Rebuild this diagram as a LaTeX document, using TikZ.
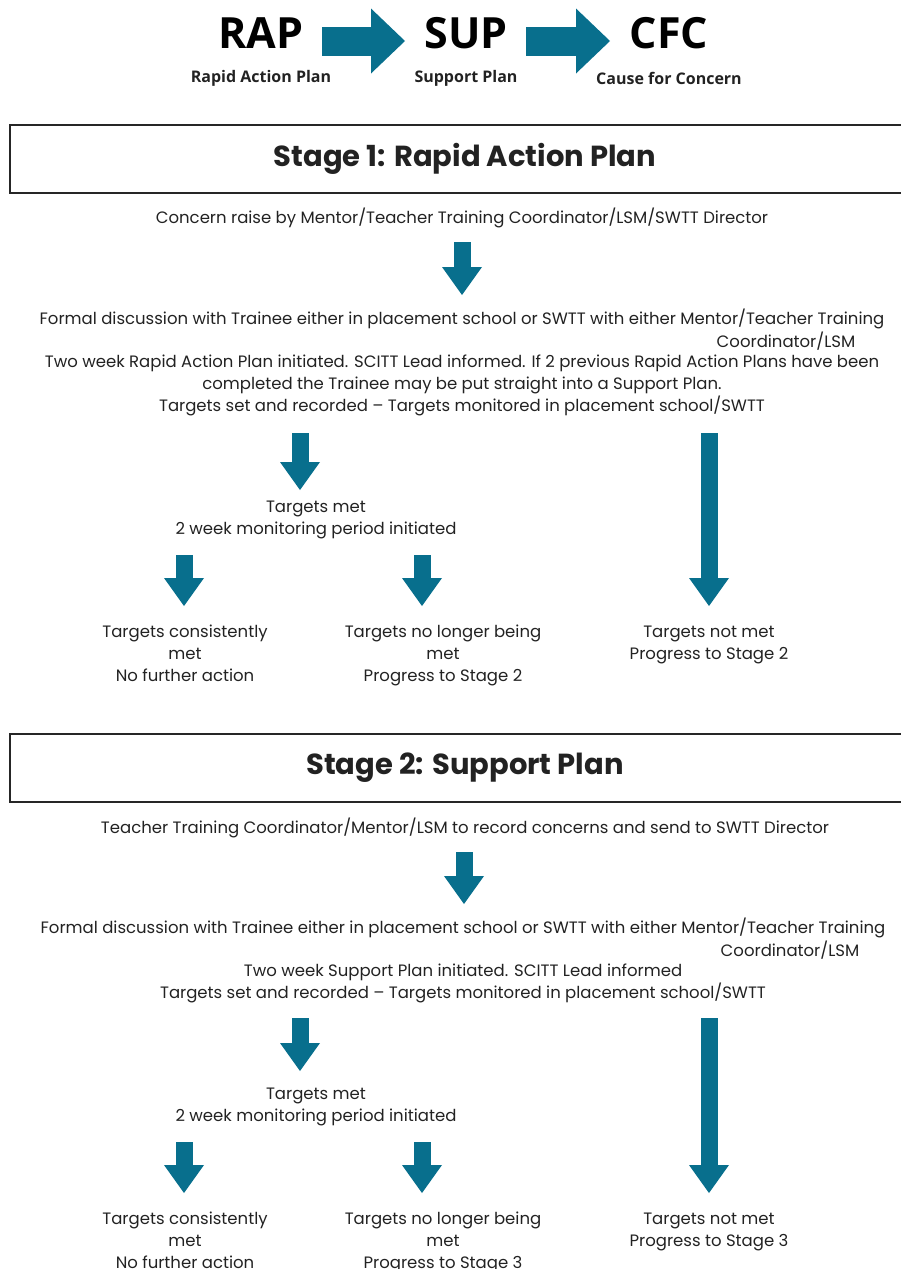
\documentclass[tikz,border=0pt]{standalone}
\usepackage{fontspec}
\setmainfont{Poppins}
\newfontfamily\headfont{Open Sans}
\usetikzlibrary{arrows.meta}
\definecolor{planblue}{HTML}{086F8D}
\definecolor{plaintext}{HTML}{222222}
\tikzset{
  body/.style={font=\fontsize{16.5}{22}\selectfont, text=plaintext, align=center, inner sep=0pt},
  stagebox/.style={draw=black!85, line width=1.6pt, minimum width=910pt, minimum height=68pt,
    font=\bfseries\fontsize{29}{32}\selectfont, text=plaintext},
  flowarrow/.style={draw=planblue, line width=17pt,
    -{Triangle[width=40pt,length=28pt,line width=0pt]}},
  headarrow/.style={draw=planblue, line width=29pt,
    -{Triangle[width=65pt,length=34pt,line width=0pt]}},
  acronym/.style={font=\headfont\bfseries\fontsize{43}{48}\selectfont, inner sep=0pt},
  acrolabel/.style={font=\headfont\bfseries\fontsize{16}{18}\selectfont, text=plaintext, inner sep=0pt}
}
\begin{document}
\begin{tikzpicture}[x=1pt,y=-1pt]
  \useasboundingbox (0,0) rectangle (901,1269);

  % Cabecera RAP -> SUP -> CFC
  \node[acronym] (rap) at (261,33) {RAP};
  \node[acronym] (sup) at (466,33) {SUP};
  \node[acronym] (cfc) at (669,33) {CFC};
  \node[acrolabel] (raplbl) at (261,78) {Rapid Action Plan};
  \node[acrolabel] (suplbl) at (466,78) {Support Plan};
  \node[acrolabel] (cfclbl) at (669,78) {Cause for Concern};
  \coordinate (h1s) at (322,41); \coordinate (h1e) at (405,41);
  \coordinate (h2s) at (526,41); \coordinate (h2e) at (610,41);
  \draw[headarrow] (h1s) -- (h1e);
  \draw[headarrow] (h2s) -- (h2e);

  % Etapa 1
  \node[stagebox] (stage1) at (465,159) {Stage 1: Rapid Action Plan};
  \node[body] (concern1) at (462,218) {Concern raise by Mentor/Teacher Training Coordinator/LSM/SWTT Director};
  \coordinate (a1s) at (462,242); \coordinate (a1e) at (462,295);
  \draw[flowarrow] (a1s) -- (a1e);
  \node[body] (formal1) at (462,319) {Formal discussion with Trainee either in placement school or SWTT with either Mentor/Teacher Training};
  \node[body] (coord1) at (786,341) {Coordinator/LSM};
  \node[body] (plan1) at (462,385) {Two week Rapid Action Plan initiated. SCITT Lead informed. If 2 previous Rapid Action Plans have been\\
    completed the Trainee may be put straight into a Support Plan.\\
    Targets set and recorded -- Targets monitored in placement school/SWTT};
  \coordinate (b1s) at (300,433); \coordinate (b1e) at (300,490);
  \coordinate (c1s) at (709,433); \coordinate (c1e) at (709,606);
  \draw[flowarrow] (b1s) -- (b1e);
  \draw[flowarrow] (c1s) -- (c1e);
  \node[body] (met1) at (316,520) {Targets met\\2 week monitoring period initiated};
  \coordinate (d1s) at (184,555); \coordinate (d1e) at (184,606);
  \coordinate (e1s) at (422,555); \coordinate (e1e) at (422,606);
  \draw[flowarrow] (d1s) -- (d1e);
  \draw[flowarrow] (e1s) -- (e1e);
  \node[body] (cons1) at (185,653) {Targets consistently\\met\\No further action};
  \node[body] (nolong1) at (443,655) {Targets no longer being\\met\\Progress to Stage 2};
  \node[body] (notmet1) at (709,645) {Targets not met\\Progress to Stage 2};

  % Etapa 2
  \node[stagebox] (stage2) at (465,768) {Stage 2: Support Plan};
  \node[body] (concern2) at (465,828) {Teacher Training Coordinator/Mentor/LSM to record concerns and send to SWTT Director};
  \coordinate (a2s) at (464,852); \coordinate (a2e) at (464,904);
  \draw[flowarrow] (a2s) -- (a2e);
  \node[body] (formal2) at (463,928) {Formal discussion with Trainee either in placement school or SWTT with either Mentor/Teacher Training};
  \node[body] (coord2) at (790,950) {Coordinator/LSM};
  \node[body] (plan2) at (463,983) {Two week Support Plan initiated. SCITT Lead informed\\
    Targets set and recorded -- Targets monitored in placement school/SWTT};
  \coordinate (b2s) at (300,1018); \coordinate (b2e) at (300,1071);
  \coordinate (c2s) at (709,1018); \coordinate (c2e) at (709,1193);
  \draw[flowarrow] (b2s) -- (b2e);
  \draw[flowarrow] (c2s) -- (c2e);
  \node[body] (met2) at (316,1107) {Targets met\\2 week monitoring period initiated};
  \coordinate (d2s) at (184,1142); \coordinate (d2e) at (184,1193);
  \coordinate (e2s) at (422,1142); \coordinate (e2e) at (422,1193);
  \draw[flowarrow] (d2s) -- (d2e);
  \draw[flowarrow] (e2s) -- (e2e);
  \node[body] (cons2) at (185,1240) {Targets consistently\\met\\No further action};
  \node[body] (nolong2) at (443,1242) {Targets no longer being\\met\\Progress to Stage 3};
  \node[body] (notmet2) at (709,1232) {Targets not met\\Progress to Stage 3};
\end{tikzpicture}
\end{document}
